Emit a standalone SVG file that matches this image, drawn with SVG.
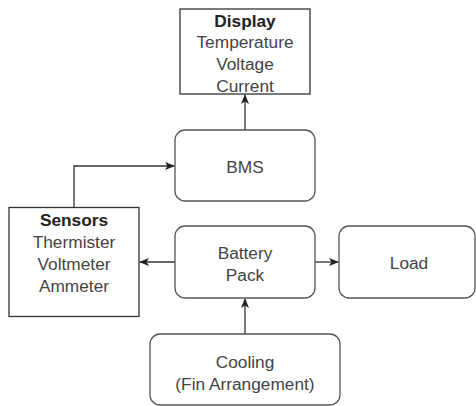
<svg xmlns="http://www.w3.org/2000/svg" width="476" height="406" viewBox="0 0 476 406">
<style>
.box{fill:#fff;stroke:#333;stroke-width:1.3}
.rbox{fill:#fff;stroke:#555;stroke-width:1.3}
.t{font-family:"Liberation Sans",Arial,sans-serif;font-size:17.3px;fill:#444;text-anchor:middle}
.b{font-weight:bold;fill:#222}
.c{fill:none;stroke:#333;stroke-width:1.3}
</style>
<defs>
<marker id="ah" viewBox="0 0 10 8" refX="9" refY="4" markerWidth="10" markerHeight="8" markerUnits="userSpaceOnUse" orient="auto">
<path d="M0,0 L10,4 L0,8 L2.5,4 z" fill="#222"/>
</marker>
</defs>
<rect width="476" height="406" fill="#fff"/>
<g id="connectors">
<path class="c" d="M245,130 V95" marker-end="url(#ah)"/>
<path class="c" d="M74,207.5 V166 H174" marker-end="url(#ah)"/>
<path class="c" d="M175,262 H140" marker-end="url(#ah)"/>
<path class="c" d="M315,262 H338" marker-end="url(#ah)"/>
<path class="c" d="M245,334 V299" marker-end="url(#ah)"/>
</g>
<g id="display">
<rect class="box" x="180" y="9" width="130" height="85"/>
<text class="t b" x="245" y="26.7">Display</text>
<text class="t" x="245" y="48.3">Temperature</text>
<text class="t" x="245" y="70">Voltage</text>
<text class="t" x="245" y="91.6">Current</text>
</g>
<g id="bms">
<rect class="rbox" x="175" y="130" width="140" height="71" rx="10"/>
<text class="t" x="245" y="172.5">BMS</text>
</g>
<g id="sensors">
<rect class="box" x="9" y="207.5" width="130" height="109"/>
<text class="t b" x="74" y="226">Sensors</text>
<text class="t" x="74" y="248">Thermister</text>
<text class="t" x="74" y="270">Voltmeter</text>
<text class="t" x="74" y="291.7">Ammeter</text>
</g>
<g id="battery">
<rect class="rbox" x="175" y="226" width="140" height="72" rx="10"/>
<text class="t" x="245" y="259">Battery</text>
<text class="t" x="245" y="280.7">Pack</text>
</g>
<g id="load">
<rect class="rbox" x="339" y="226" width="136" height="72" rx="10"/>
<text class="t" x="409" y="269">Load</text>
</g>
<g id="cooling">
<rect class="rbox" x="150" y="334" width="190" height="71" rx="10"/>
<text class="t" x="245" y="368.3">Cooling</text>
<text class="t" x="245" y="389.5">(Fin Arrangement)</text>
</g>
</svg>
